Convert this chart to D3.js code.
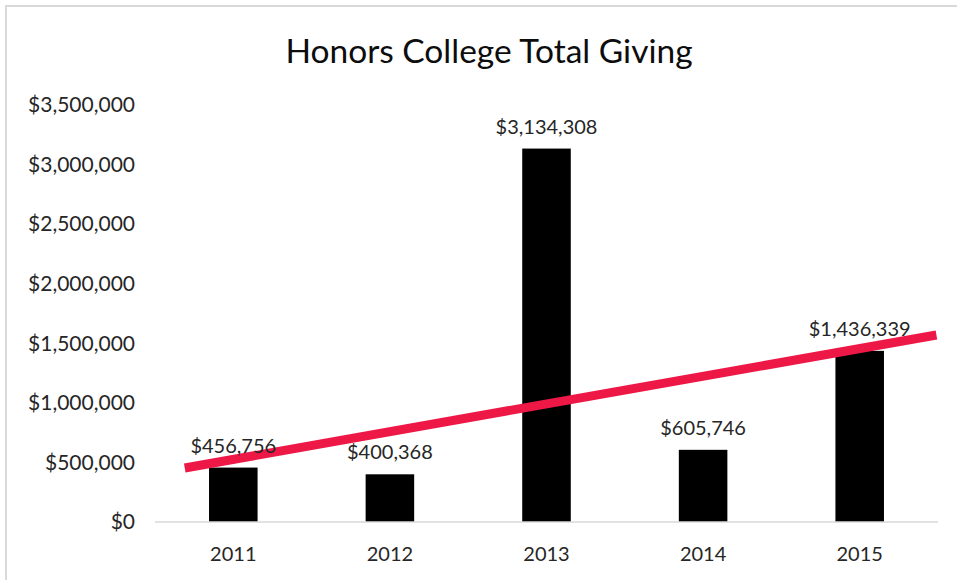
<!DOCTYPE html>
<html>
<head>
<meta charset="utf-8">
<script src="https://cdn.jsdelivr.net/npm/d3@7"></script>
<style>
  body { margin: 0; background: #fff; }
  text { font-family: Lato, "Open Sans", sans-serif; fill: #262626; }
</style>
</head>
<body>
<div id="chart"></div>
<script>
// chart data
var years = ["2011", "2012", "2013", "2014", "2015"];
var giving = [456756, 400368, 3134308, 605746, 1436339];
var yTicks = [0, 500000, 1000000, 1500000, 2000000, 2500000, 3000000, 3500000];
// trend line ends, in category index units and dollars
var trendIdx = [-0.31, 4.49];
var trendVal = [453000, 1570000];

var W = 957, H = 580;
var margin = {top: 105, right: 19, bottom: 58, left: 155};
var width = W - margin.left - margin.right,
    height = H - margin.top - margin.bottom;

var svg = d3.select("#chart").append("svg")
    .attr("width", W)
    .attr("height", H);

// outer chart border
svg.append("path")
    .attr("d", "M6," + H + "V6H" + W)
    .style("fill", "none")
    .style("stroke", "#d9d9d9")
    .style("stroke-width", 2);

svg.append("text")
    .attr("x", 489)
    .attr("y", 63)
    .attr("text-anchor", "middle")
    .style("font-size", "33.5px")
    .style("fill", "#0d0d0d")
    .text("Honors College Total Giving");

var g = svg.append("g")
    .attr("transform", "translate(" + margin.left + "," + margin.top + ")");

var x = d3.scaleBand().domain(years).range([0, width]).paddingInner(0.69).paddingOuter(0.345);
var y = d3.scaleLinear().domain([0, 3500000]).range([height, 0]);

var fmt = d3.format("$,.0f");

// y axis labels
g.selectAll(".ytick")
    .data(yTicks)
    .enter().append("text")
    .attr("class", "ytick")
    .attr("x", -20)
    .attr("y", function (d) { return y(d); })
    .attr("dy", "0.35em")
    .attr("text-anchor", "end")
    .style("font-size", "21px")
    .text(function (d) { return fmt(d); });

// bars
g.selectAll(".bar")
    .data(giving)
    .enter().append("rect")
    .attr("class", "bar")
    .attr("x", function (d, i) { return x(years[i]); })
    .attr("y", function (d) { return y(d); })
    .attr("width", x.bandwidth())
    .attr("height", function (d) { return height - y(d); })
    .style("fill", "#000");

// baseline
g.append("line")
    .attr("x1", 0).attr("x2", width)
    .attr("y1", height).attr("y2", height)
    .style("stroke", "#d9d9d9")
    .style("stroke-width", 1.5);

// year labels
g.selectAll(".xlab")
    .data(years)
    .enter().append("text")
    .attr("class", "xlab")
    .attr("x", function (d) { return x(d) + x.bandwidth() / 2; })
    .attr("y", height + 39)
    .attr("text-anchor", "middle")
    .style("font-size", "20px")
    .text(function (d) { return d; });

// trend line
var xi = d3.scaleLinear()
    .domain([0, years.length - 1])
    .range([x(years[0]) + x.bandwidth() / 2, x(years[years.length - 1]) + x.bandwidth() / 2]);

g.append("line")
    .attr("x1", xi(trendIdx[0])).attr("y1", y(trendVal[0]))
    .attr("x2", xi(trendIdx[1])).attr("y2", y(trendVal[1]))
    .style("stroke", "#ee1846")
    .style("stroke-width", 9);

// value labels
g.selectAll(".vlab")
    .data(giving)
    .enter().append("text")
    .attr("class", "vlab")
    .attr("x", function (d, i) { return x(years[i]) + x.bandwidth() / 2; })
    .attr("y", function (d) { return y(d) - 15; })
    .attr("text-anchor", "middle")
    .style("font-size", "20px")
    .text(function (d) { return fmt(d); });
</script>
</body>
</html>
